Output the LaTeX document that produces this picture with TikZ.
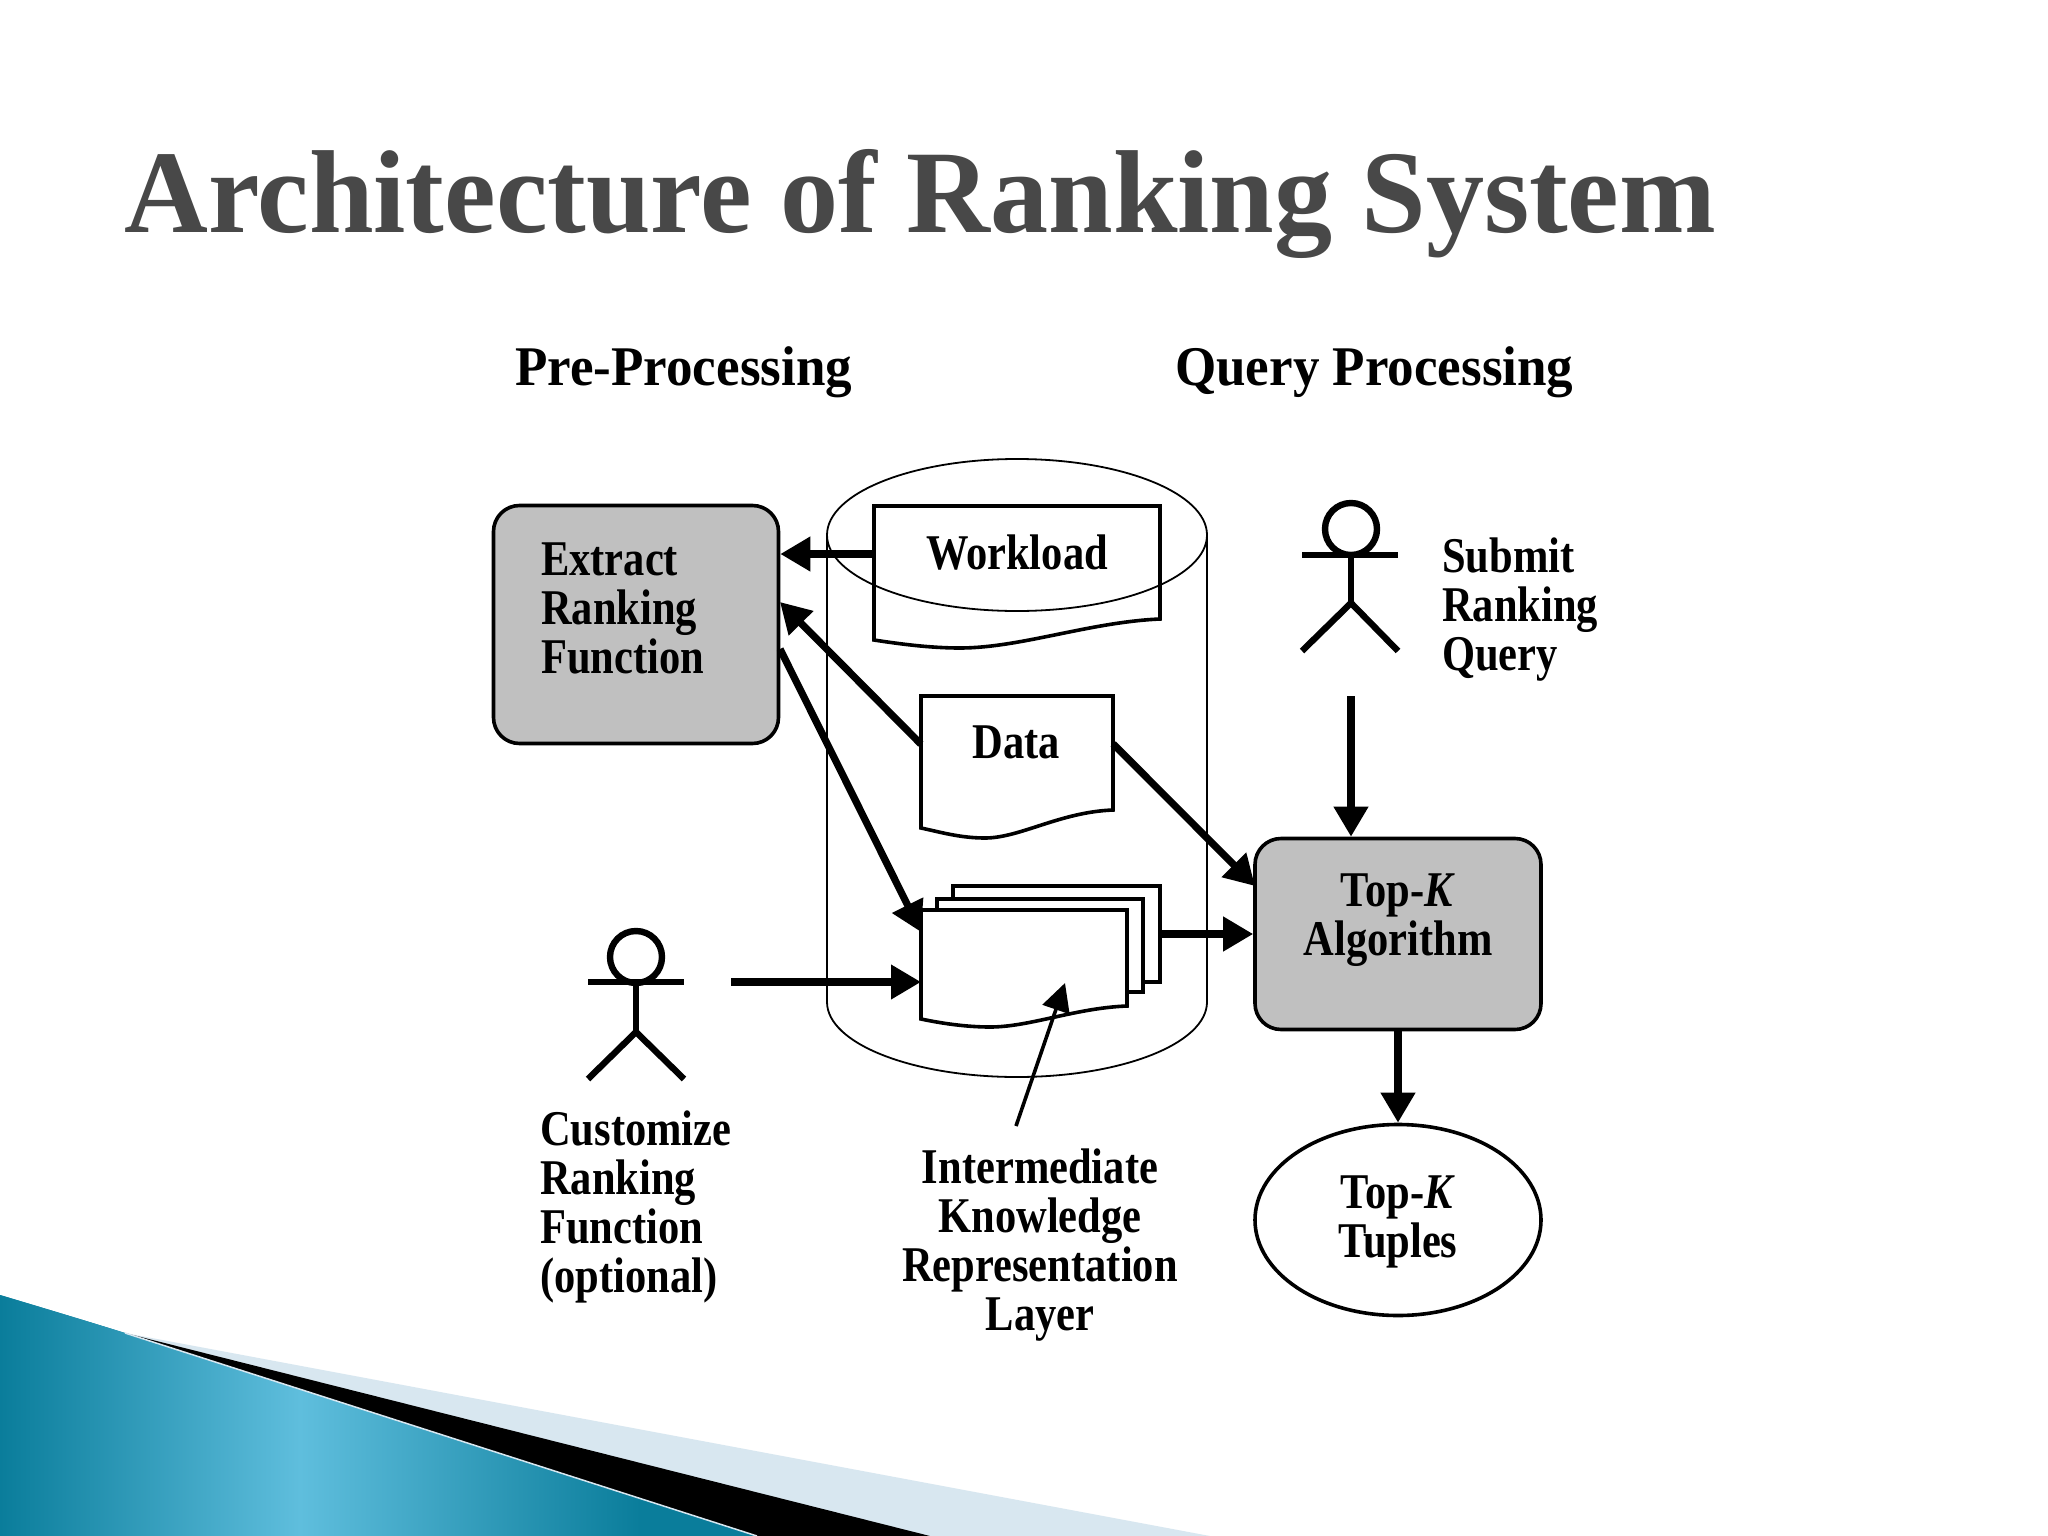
\documentclass[tikz,border=0pt]{standalone}
\usepackage{fontspec}
\usetikzlibrary{arrows.meta,positioning,shadings,shapes.geometric}
\newfontfamily\labf[FakeStretch=.85]{Liberation Serif}
\newfontfamily\headf[FakeStretch=.947]{Liberation Serif}
\newfontfamily\titlef[FakeStretch=.984]{Liberation Serif}
\definecolor{boxgray}{HTML}{C0C0C0}
\definecolor{titlegray}{HTML}{484848}
\definecolor{paleblue}{HTML}{D8E7F0}
\definecolor{tealdark}{HTML}{0A7D9B}
\definecolor{teallight}{HTML}{5FBEDD}
\tikzset{
  lab/.style={font=\labf\bfseries\fontsize{50}{49}\selectfont,inner sep=0pt,align=left,anchor=base west},
  labc/.style={lab,align=center,anchor=base},
  head/.style={font=\headf\bfseries\fontsize{56}{60}\selectfont,inner sep=0pt,anchor=base west},
  procbox/.style={draw,line width=3.6pt,fill=boxgray,rounded corners=26pt,inner sep=0pt},
  docline/.style={line width=3.6pt,line join=miter,fill=white},
  arr/.style={line width=7.2pt,-{Triangle[length=30pt,width=33pt]}},
  thinarr/.style={line width=3.6pt,-{Triangle[length=28pt,width=28pt]}},
  actor/.style={line width=6.4pt},
  cyl/.style={line width=1.8pt},
  anch/.style={inner sep=0pt,draw=none},
}
\begin{document}
\begin{tikzpicture}[x=1pt,y=-1pt]
\useasboundingbox (0,0) rectangle (2048,1536);
\fill[white] (0,0) rectangle (2048,1536);
% ribbon
\fill[paleblue] (125,1333) -- (1210,1536) -- (925,1536) -- cycle;
\fill[black] (125,1333) -- (930,1536) -- (757,1536) -- cycle;
\begin{scope}
\clip (0,1295) .. controls (50,1310) and (90,1322) .. (125,1333) -- (757,1536) -- (0,1536) -- cycle;
\fill[tealdark] (0,1290) rectangle (760,1540);
\shade[left color=tealdark,right color=teallight] (0,1290) rectangle (300,1540);
\shade[left color=teallight,right color=tealdark] (300,1290) rectangle (640,1540);
\end{scope}
\draw[paleblue,line width=1.5pt] (125,1333) -- (757,1536);
% title
\node[font=\titlef\bfseries\fontsize{118}{118}\selectfont,text=titlegray,inner sep=0pt,anchor=base west] (title) at (124,232) {Architecture of Ranking System};
% headings
\node[head] (pre) at (515,385) {Pre-Processing};
\node[head] (qp) at (1175,385) {Query Processing};
% cylinder
\draw[cyl] (827,535) -- (827,1002);
\draw[cyl] (1207,535) -- (1207,1002);
\draw[cyl] (827,1002) arc[start angle=180,end angle=0,x radius=190,y radius=75];
% workload
\node[anch,minimum width=286pt,minimum height=96pt] (workload) at (1017,554) {};
\draw[docline] (874,506) -- (1160,506) -- (1160,619) .. controls (1090,622) and (1020,648) .. (960,648) .. controls (930,648) and (900,644) .. (874,640) -- cycle;
\draw[cyl] (1017,535) ellipse[x radius=190,y radius=76];
% data
\node[anch,minimum width=192pt,minimum height=96pt] (data) at (1017,744) {};
\draw[docline] (921,696) -- (1113,696) -- (1113,810) .. controls (1060,812) and (1020,838) .. (985,838) .. controls (960,838) and (940,832) .. (921,828) -- cycle;
% stack
\node[anch,minimum width=206pt,minimum height=96pt] (stackback) at (1057,934) {};
\draw[docline] (953,886) -- (1160,886) -- (1160,982) -- (1130,982) -- (953,1000) -- cycle;
\draw[docline] (937,899) -- (1143,899) -- (1143,992) -- (1110,992) -- (937,1010) -- cycle;
\node[anch,minimum width=206pt,minimum height=96pt] (stack) at (1024,958) {};
\draw[docline] (921,910) -- (1127,910) -- (1127,1006) .. controls (1075,1008) and (1030,1027) .. (990,1027) .. controls (965,1027) and (940,1023) .. (921,1019) -- cycle;
% boxes
\node[procbox,minimum width=285pt,minimum height=238pt] (extract) at (636,624.5) {};
\node[procbox,minimum width=286pt,minimum height=191pt] (topk) at (1398,934) {};
\node[draw,line width=3.6pt,ellipse,minimum width=286pt,minimum height=191pt,inner sep=0pt] (tuples) at (1398,1220) {};
% actors
\node[draw,line width=6.4pt,circle,minimum size=52pt,inner sep=0pt] (head1) at (1351,529) {};
\coordinate (hip1) at (1351,603);
\draw[actor] (head1.south) -- (hip1);
\draw[actor] (1302,555) -- (1398,555);
\draw[actor] (1302,651) -- (hip1) -- (1398,651);
\node[draw,line width=6.4pt,circle,minimum size=52pt,inner sep=0pt] (head2) at (636,957) {};
\coordinate (hip2) at (636,1032);
\draw[actor] (head2.south) -- (hip2);
\draw[actor] (588,982) -- (684,982);
\draw[actor] (588,1079) -- (hip2) -- (684,1079);
% labels (anchored on the last line's baseline)
\node[lab] (tExtract) at (541,673) {Extract\\Ranking\\Function};
\node[labc] (tWorkload) at (1017,569) {Workload};
\node[labc] (tData) at (1016,758) {Data};
\node[lab] (tSubmit) at (1442,670) {Submit\\Ranking\\Query};
\node[labc] (tTopk) at (1398,955) {Top-\textit{K}\\Algorithm};
\node[labc] (tTuples) at (1398,1257) {Top-\textit{K}\\Tuples};
\node[lab] (tCustom) at (540,1292) {Customize\\Ranking\\Function\\(optional)};
\node[labc] (tLayer) at (1040,1330) {Intermediate\\Knowledge\\Representation\\Layer};
% connectors
\coordinate (exA) at (780,602);
\coordinate (exB) at (780,649);
\coordinate (tkA) at (1255,886);
\coordinate (stackA) at (921,982);
\coordinate (stackB) at (921,932);
\coordinate (stackC) at (1065,983);
\coordinate (actor1out) at (1351,696);
\coordinate (actor2out) at (731,982);
\coordinate (layerOut) at (1016,1126);
\draw[arr] (workload.west) -- (extract.east |- workload.west);
\draw[arr] (data.west) -- (exA);
\draw[arr] (exB) -- (stackB);
\draw[arr] (data.east) -- (tkA);
\draw[arr] (stackback.east) -- (topk.west);
\draw[arr] (actor2out) -- (stackA);
\draw[arr] (actor1out) -- (topk.north -| actor1out);
\draw[arr] (topk.south) -- (tuples.north);
\draw[thinarr] (layerOut) -- (stackC);
\end{tikzpicture}
\end{document}
